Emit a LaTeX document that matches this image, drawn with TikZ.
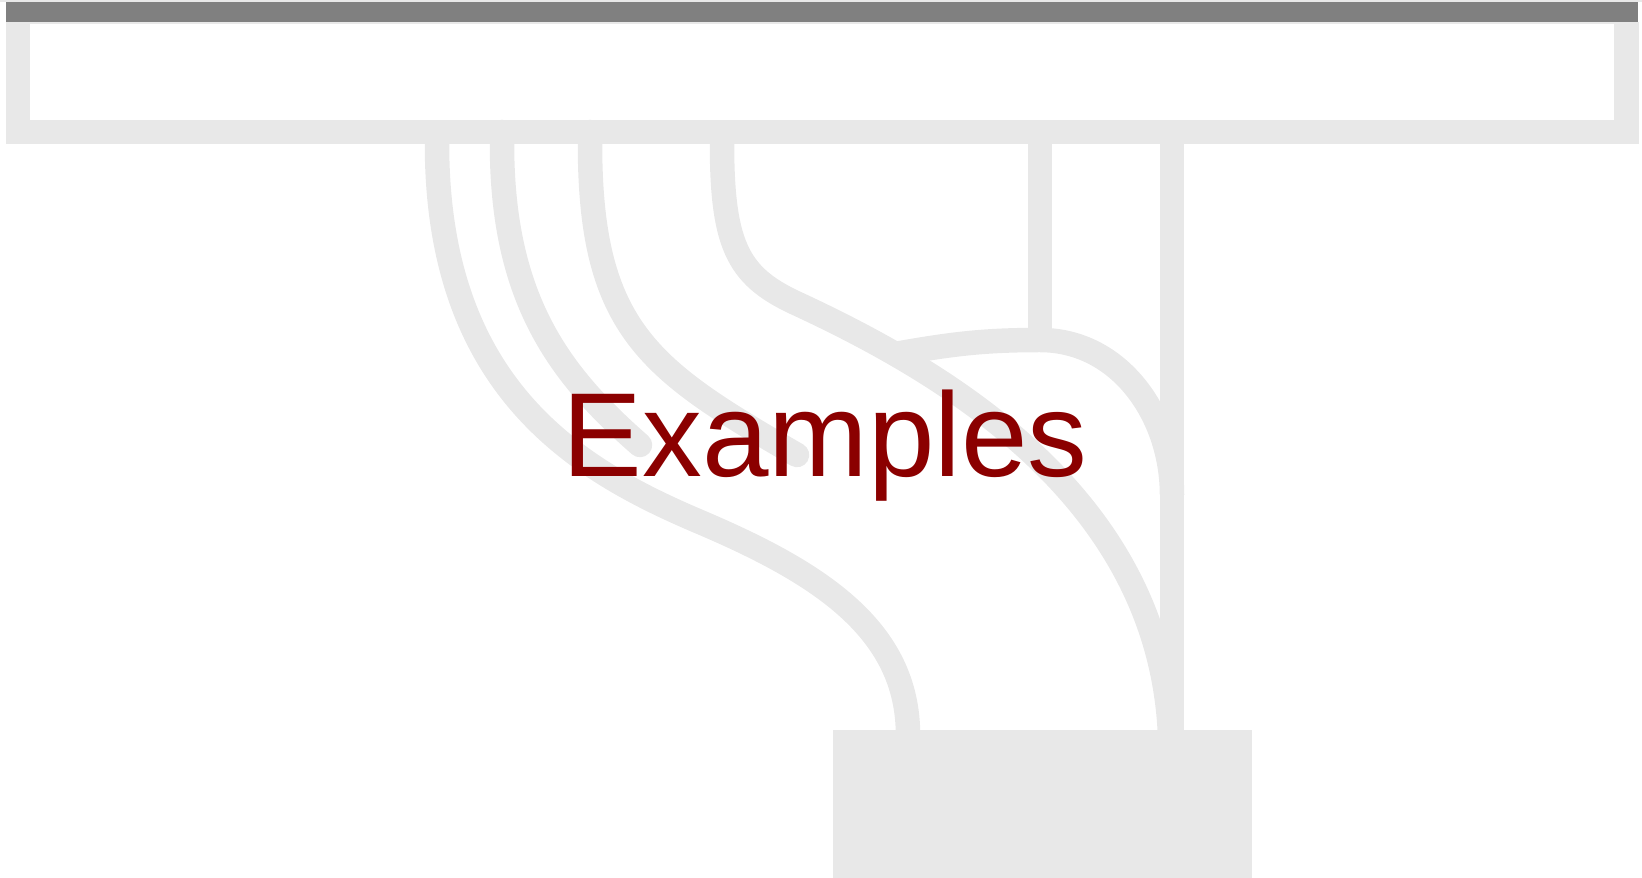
\documentclass[tikz,border=0pt]{standalone}
\usepackage{fontspec}
\setmainfont{Liberation Sans}
\usetikzlibrary{positioning}
\definecolor{cpipe}{HTML}{E8E8E8}
\definecolor{cbar}{HTML}{808080}
\definecolor{cred}{HTML}{8B0000}
\tikzset{
  panel/.style={fill=#1, inner sep=0pt, outer sep=0pt, anchor=north west},
  panel/.default=cpipe,
  pipe/.style={draw=cpipe, line width=0.245cm},
  stub/.style={pipe, line cap=round},
  title/.style={font=\fontsize{34}{40}\selectfont, text=cred},
}

\begin{document}
\begin{tikzpicture}
  \useasboundingbox (0,0) rectangle (16.42,-8.78);
  % header bar and frame
  \fill[cpipe] (0,0) rectangle (16.42,-0.02);
  \node[panel, minimum width=16.33cm, minimum height=1.22cm] (frame) at (0.06,-0.22) {};
  \node[panel=white, minimum width=15.84cm, minimum height=0.96cm] (inner) at (0.30,-0.24) {};
  \node[panel=cbar, minimum width=16.32cm, minimum height=0.20cm] (bar) at (0.06,-0.02) {};
  \node[panel, minimum width=4.19cm, minimum height=1.48cm] (sink) at (8.33,-7.30) {};
  % taps under the frame, ends in the sink
  \coordinate (t1) at (4.37,-1.30);  \coordinate (t2) at (5.02,-1.32);
  \coordinate (t3) at (5.90,-1.32);  \coordinate (t4) at (7.22,-1.30);
  \coordinate (t5) at (10.40,-1.30); \coordinate (t6) at (11.72,-1.30);
  \coordinate (s1) at (9.08,-7.35);  \coordinate (s4) at (11.70,-7.35);
  \coordinate (s6) at (11.72,-7.35);
  \coordinate (e2) at (6.40,-4.45);  \coordinate (e3) at (7.97,-4.55);
  \coordinate (j) at (8.95,-3.54);   \coordinate (m5) at (10.40,-3.40);
  % pipes
  \draw[pipe] (t1) -- (4.37,-1.44) .. controls (4.37,-3.9) and (5.8,-4.71) .. (7.0,-5.22)
    .. controls (8.2,-5.73) and (9.08,-6.3) .. (s1);
  \draw[stub] (t2) -- (5.02,-1.44) .. controls (5.02,-3.0) and (5.6,-3.75) .. (e2);
  \draw[stub] (t3) -- (5.90,-1.44) .. controls (5.90,-3.3) and (6.5,-3.7) .. (e3);
  \draw[pipe] (t4) -- (7.22,-1.44) .. controls (7.22,-2.5) and (7.4,-2.78) .. (8.0,-3.05)
    .. controls (9.5,-3.75) and (11.6,-5.0) .. (s4);
  \draw[pipe] (t5) -- (m5);
  \draw[pipe] (j) to[out=10,in=180] (m5) to[out=0,in=90] (11.72,-4.95);
  \draw[pipe] (t6) -- (s6);
  % label
  \node[title, anchor=base] (label) at (8.25,-4.77) {Examples};
\end{tikzpicture}
\end{document}
